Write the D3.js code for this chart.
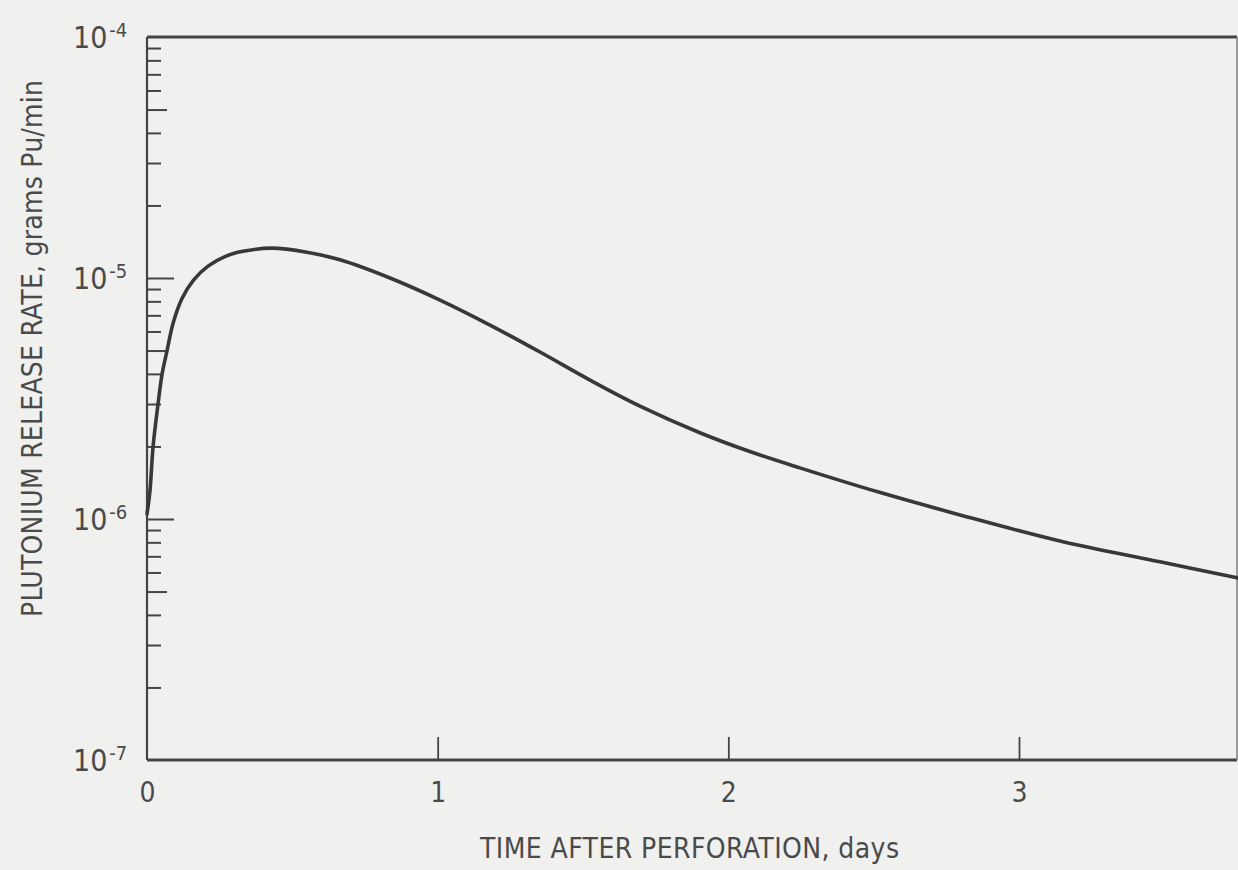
<!DOCTYPE html>
<html>
<head>
<meta charset="utf-8">
<script src="https://cdn.jsdelivr.net/npm/d3@7"></script>
<style>
  html, body { margin: 0; padding: 0; background: #f0f0ef; }
  svg { display: block; }
  text { font-family: "Liberation Sans Narrow", "DejaVu Sans Condensed", "Liberation Sans", sans-serif; fill: #4a4a4a; }
</style>
</head>
<body>
<svg id="chart" width="1238" height="870"></svg>
<script>
// Release rate of plutonium after perforation (days vs grams Pu/min)
const timeDays = [0, 0.01, 0.021, 0.038, 0.052, 0.069, 0.09, 0.12, 0.16, 0.21, 0.27, 0.33, 0.43, 0.55,
  0.664, 0.836, 1.008, 1.18, 1.352, 1.524, 1.696, 1.902, 2.074, 2.246, 2.52, 2.797, 3.141, 3.485, 3.75];
const releaseRate = [1.05e-6, 1.3e-6, 2.0e-6, 3.0e-6, 4.0e-6, 5.0e-6, 6.5e-6, 8.2e-6, 9.8e-6, 1.12e-5,
  1.23e-5, 1.29e-5, 1.33e-5, 1.28e-5, 1.19e-5, 1.0e-5, 8.1e-6, 6.38e-6, 4.93e-6, 3.77e-6, 2.94e-6,
  2.28e-6, 1.905e-6, 1.63e-6, 1.29e-6, 1.04e-6, 8.1e-7, 6.64e-7, 5.7e-7];

const xTickValues = [0, 1, 2, 3];
const yDecades = [1e-7, 1e-6, 1e-5, 1e-4];
const yDecadeExponents = ["-7", "-6", "-5", "-4"];
const xDomain = [0, 3.75];
const yDomain = [1e-7, 1e-4];

const xTitle = "TIME AFTER PERFORATION, days";
const yTitle = "PLUTONIUM RELEASE RATE, grams Pu/min";

const svg = d3.select("#chart");
const plotLeft = 147, plotRight = 1237, plotTop = 37, plotBottom = 760;
const ink = "#444";

const x = d3.scaleLinear().domain(xDomain).range([plotLeft, plotRight]);
const y = d3.scaleLog().domain(yDomain).range([plotBottom, plotTop]);

// minor log ticks: 2..9 of each decade, 5 drawn a bit longer
const minorSmall = [], minorFive = [];
for (const d of [1e-7, 1e-6, 1e-5]) {
  for (let m = 2; m <= 9; m++) {
    (m === 5 ? minorFive : minorSmall).push(m * d);
  }
}
const majorInner = [1e-6, 1e-5];

function tickGroup(axis) {
  const g = svg.append("g").attr("transform", `translate(${plotLeft},0)`).call(axis);
  g.select(".domain").remove();
  g.selectAll("line").attr("stroke", ink).attr("stroke-width", 2);
  return g;
}
tickGroup(d3.axisLeft(y).tickValues(minorSmall).tickSizeInner(-14).tickSizeOuter(0).tickFormat(""));
tickGroup(d3.axisLeft(y).tickValues(minorFive).tickSizeInner(-20).tickSizeOuter(0).tickFormat(""));
tickGroup(d3.axisLeft(y).tickValues(majorInner).tickSizeInner(-27).tickSizeOuter(0).tickFormat(""));

// decade labels 10^n
const yLab = svg.append("g").attr("transform", `translate(${plotLeft},0)`)
  .call(d3.axisLeft(y).tickValues(yDecades).tickSize(0).tickPadding(48).tickFormat(""));
yLab.select(".domain").remove();
yLab.selectAll(".tick text").each(function (d, i) {
  const t = d3.select(this)
    .attr("text-anchor", "start")
    .attr("x", 73 - plotLeft)
    .attr("dy", "0.36em")
    .attr("font-size", 30)
    .attr("font-family", null)
    .attr("fill", "#4a4a4a");
  t.text(null);
  t.append("tspan").text("10");
  t.append("tspan").attr("font-size", 20).attr("dy", "-0.55em").attr("dx", 2).text(yDecadeExponents[i]);
});

// x ticks pointing up into the plot
const xTicks = svg.append("g").attr("transform", `translate(0,${plotBottom})`)
  .call(d3.axisBottom(x).tickValues([1, 2, 3]).tickSizeInner(-23).tickSizeOuter(0).tickFormat(""));
xTicks.select(".domain").remove();
xTicks.selectAll("line").attr("stroke", ink).attr("stroke-width", 1.8);

const xLab = svg.append("g").attr("transform", `translate(0,${plotBottom})`)
  .call(d3.axisBottom(x).tickValues(xTickValues).tickSize(0).tickPadding(22).tickFormat(d3.format("d")));
xLab.select(".domain").remove();
xLab.selectAll(".tick text").attr("font-size", 28).attr("fill", "#4a4a4a").attr("font-family", null);

// frame
const frame = svg.append("g").attr("stroke", ink).attr("fill", "none");
frame.append("line").attr("x1", x(xDomain[0])).attr("x2", x(xDomain[1])).attr("y1", y(yDomain[1])).attr("y2", y(yDomain[1])).attr("stroke-width", 3);
frame.append("line").attr("x1", x(xDomain[0])).attr("x2", x(xDomain[1])).attr("y1", y(yDomain[0])).attr("y2", y(yDomain[0])).attr("stroke-width", 3);
frame.append("line").attr("x1", x(xDomain[0])).attr("x2", x(xDomain[0])).attr("y1", y(yDomain[0])).attr("y2", y(yDomain[1])).attr("stroke-width", 2.2);
frame.append("line").attr("x1", x(xDomain[1])).attr("x2", x(xDomain[1])).attr("y1", y(yDomain[0])).attr("y2", y(yDomain[1])).attr("stroke-width", 1.4).attr("stroke", "#777");

// release-rate curve
const line = d3.line()
  .x((d, i) => x(timeDays[i]))
  .y(d => y(d))
  .curve(d3.curveCatmullRom.alpha(0.5));
svg.append("path")
  .datum(releaseRate)
  .attr("d", line)
  .attr("fill", "none")
  .attr("stroke", "#383838")
  .attr("stroke-width", 3.6)
  .attr("stroke-linecap", "round");

// axis titles
svg.append("text")
  .attr("x", 480).attr("y", 858)
  .attr("font-size", 28)
  .attr("textLength", 419).attr("lengthAdjust", "spacing")
  .text(xTitle);

svg.append("text")
  .attr("transform", "translate(42,617) rotate(-90)")
  .attr("font-size", 28)
  .attr("textLength", 537).attr("lengthAdjust", "spacing")
  .text(yTitle);
</script>
</body>
</html>
